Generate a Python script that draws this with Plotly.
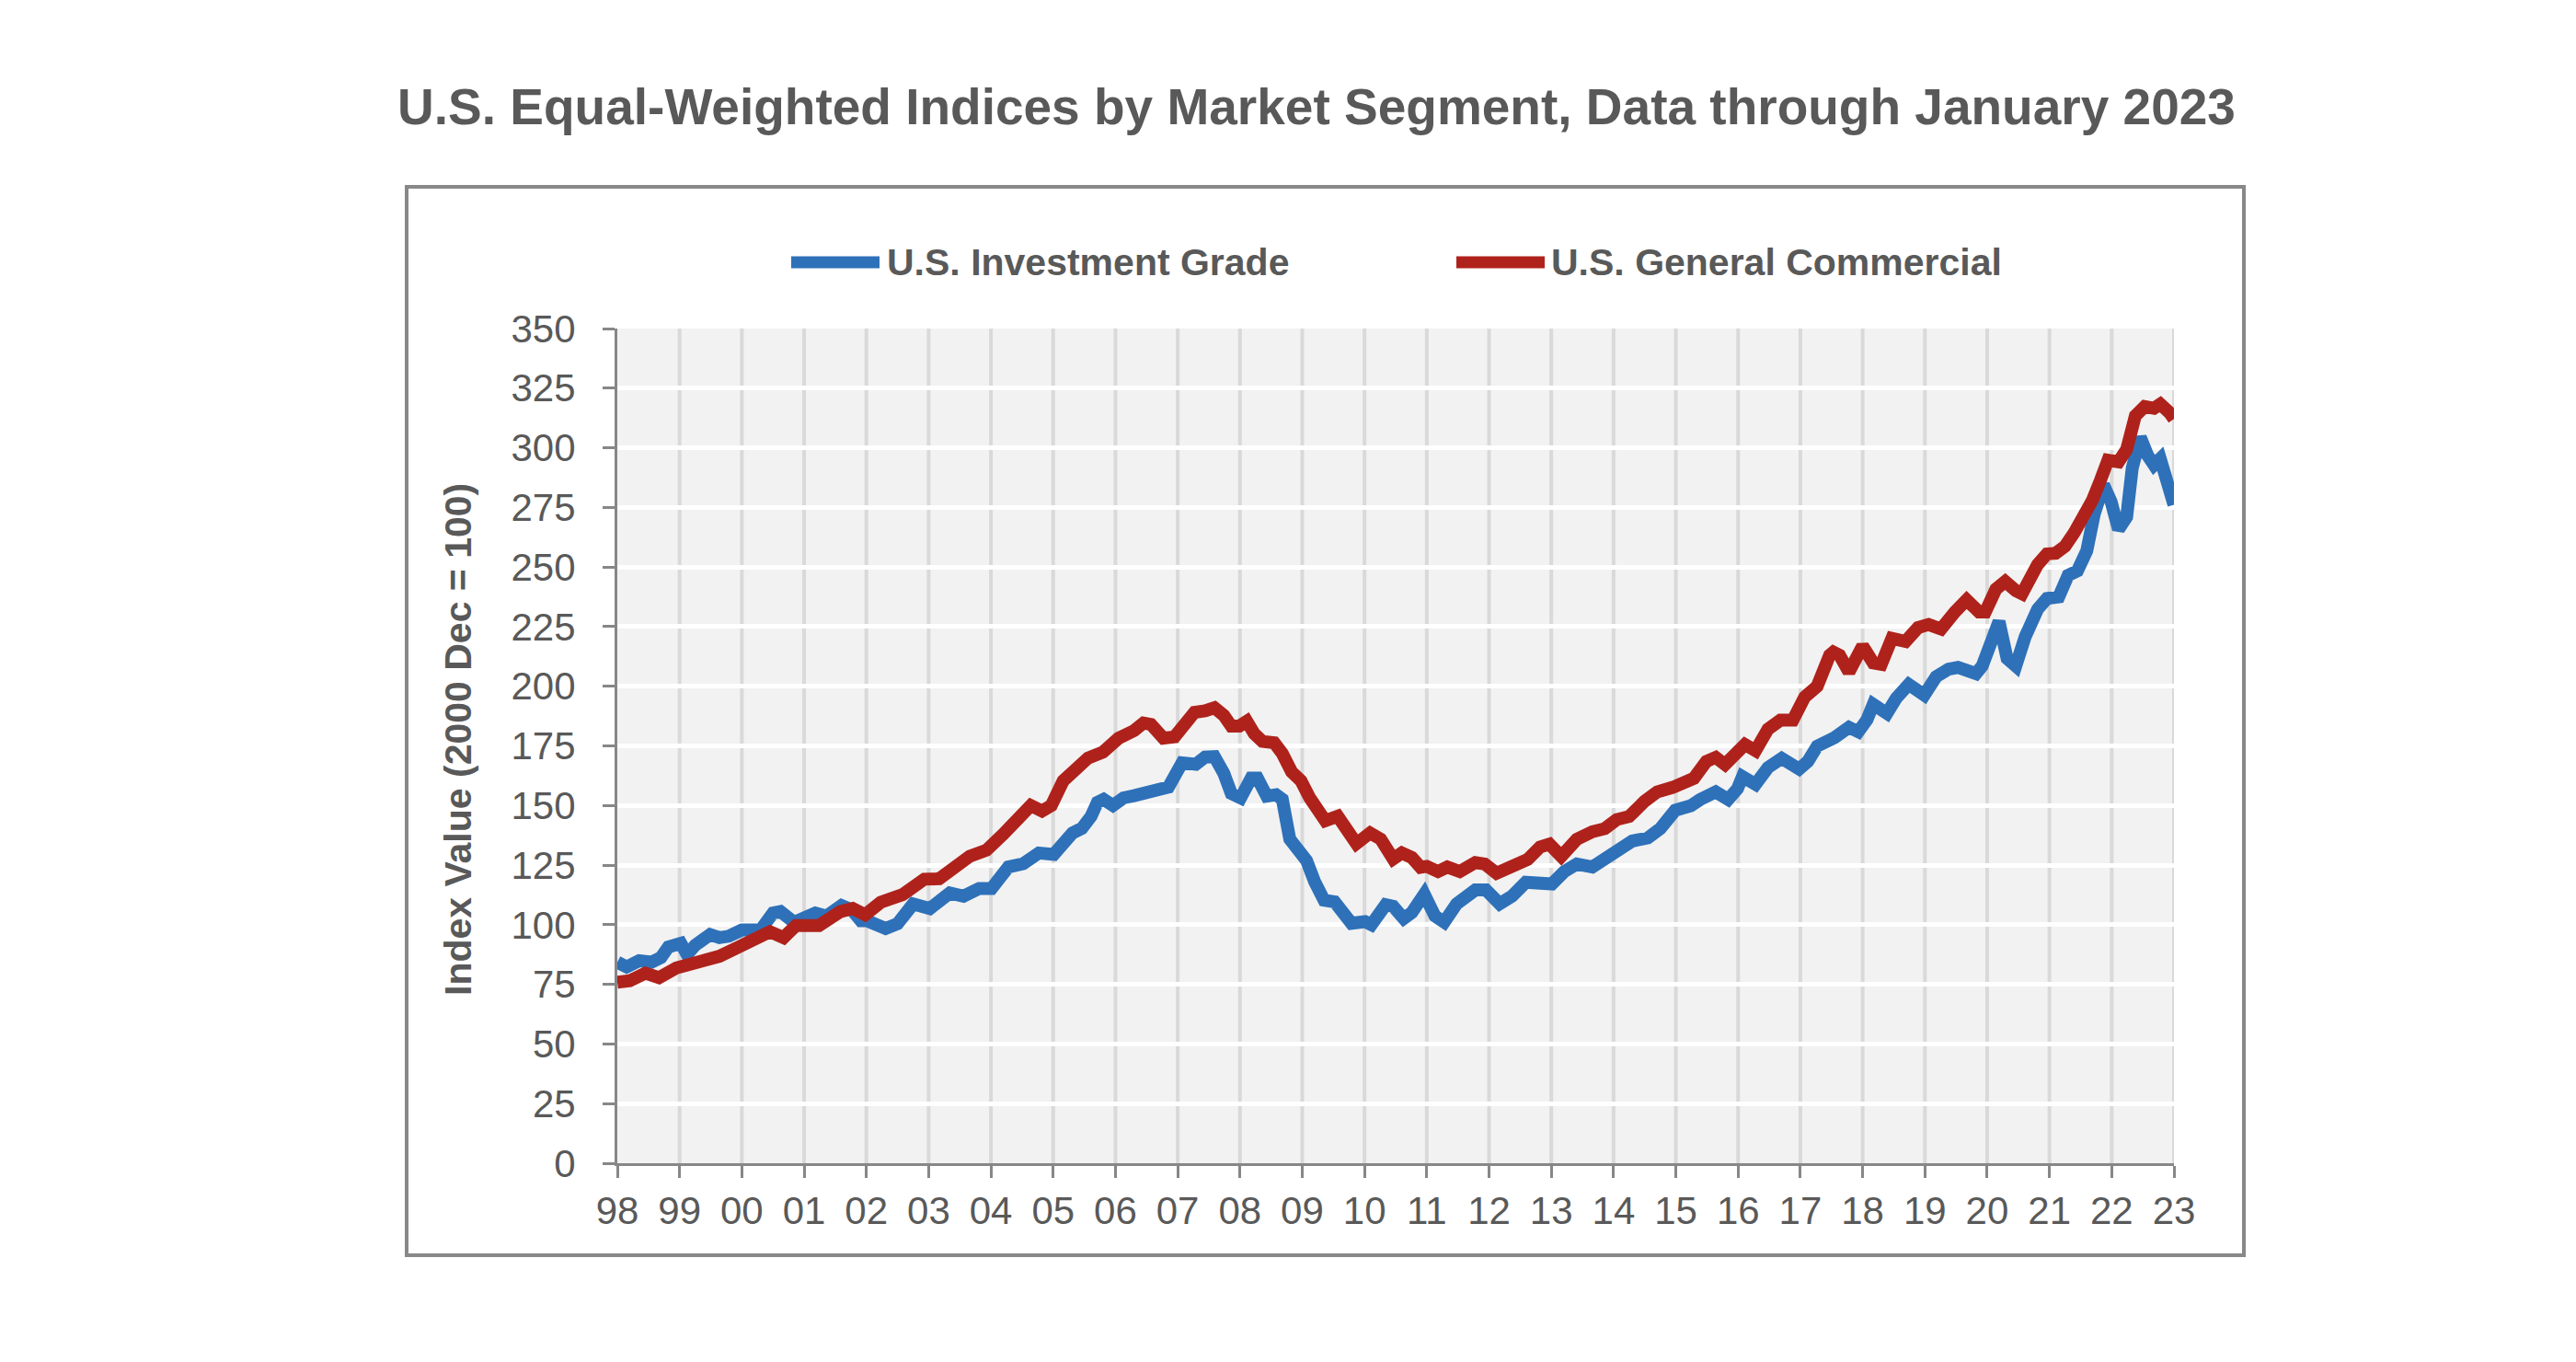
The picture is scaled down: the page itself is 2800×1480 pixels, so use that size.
import plotly.graph_objects as go

# ---------------- data ----------------
ig_years = [1998.00, 1998.15, 1998.35, 1998.55, 1998.70, 1998.82, 1999.02, 1999.12, 1999.25, 1999.49,
            1999.64, 1999.79, 2000.00, 2000.15, 2000.30, 2000.50, 2000.62, 2000.84, 2000.99, 2001.18,
            2001.36, 2001.60, 2001.77, 2001.91, 2002.01, 2002.31, 2002.50, 2002.75, 2003.02, 2003.34,
            2003.56, 2003.81, 2004.01, 2004.28, 2004.52, 2004.77, 2005.01, 2005.16, 2005.31, 2005.46,
            2005.61, 2005.71, 2005.81, 2005.96, 2006.13, 2006.30, 2006.45, 2006.65, 2006.85, 2007.07,
            2007.29, 2007.44, 2007.59, 2007.74, 2007.86, 2008.01, 2008.18, 2008.28, 2008.43, 2008.58,
            2008.68, 2008.80, 2008.92, 2009.07, 2009.20, 2009.35, 2009.52, 2009.65, 2009.79, 2010.01,
            2010.11, 2010.34, 2010.46, 2010.63, 2010.76, 2010.96, 2011.13, 2011.28, 2011.48, 2011.78,
            2011.95, 2012.17, 2012.37, 2012.59, 2012.87, 2013.01, 2013.21, 2013.41, 2013.66, 2013.91,
            2014.10, 2014.30, 2014.55, 2014.75, 2014.99, 2015.24, 2015.39, 2015.64, 2015.84, 2015.99,
            2016.07, 2016.28, 2016.48, 2016.70, 2016.98, 2017.12, 2017.27, 2017.40, 2017.55, 2017.78,
            2017.93, 2018.07, 2018.17, 2018.39, 2018.54, 2018.74, 2018.99, 2019.18, 2019.38, 2019.53,
            2019.67, 2019.82, 2019.92, 2020.04, 2020.19, 2020.32, 2020.46, 2020.61, 2020.81, 2020.96,
            2021.15, 2021.30, 2021.45, 2021.60, 2021.72, 2021.87, 2021.99, 2022.11, 2022.24, 2022.33,
            2022.46, 2022.58, 2022.68, 2022.78, 2022.88, 2022.98, 2023.00]
ig_values = [84.3, 82.3, 84.9, 84.3, 86.2, 90.7, 92.2, 87.5, 91.4, 95.9,
             94.6, 95.2, 97.8, 98.4, 97.8, 104.9, 105.5, 101.0, 102.3, 104.9,
             103.6, 108.1, 106.2, 101.7, 101.7, 98.4, 100.4, 108.7, 106.8, 113.3,
             112.0, 115.2, 115.2, 124.2, 125.6, 130.1, 129.5, 134.0, 138.5, 140.4,
             145.5, 151.3, 152.6, 150.0, 153.2, 154.1, 155.1, 155.1, 157.7, 167.9,
             167.3, 170.3, 170.5, 163.5, 155.1, 153.2, 161.5, 161.5, 153.9, 154.5,
             152.6, 135.9, 130.8, 126.9, 118.0, 110.3, 109.6, 105.8, 100.6, 101.3,
             100.0, 108.4, 107.7, 102.6, 105.1, 112.8, 103.7, 101.1, 108.8, 114.6,
             114.6, 108.8, 112.0, 117.8, 116.5, 117.1, 122.3, 125.5, 124.2, 128.1,
             131.3, 135.1, 136.4, 140.3, 148.0, 149.9, 152.5, 155.7, 152.5, 157.0,
             162.1, 158.9, 165.9, 169.8, 165.3, 168.5, 174.9, 176.4, 178.5, 182.8,
             180.9, 186.0, 192.4, 188.6, 195.0, 200.8, 196.3, 204.0, 207.2, 207.9,
             206.0, 205.3, 208.5, 218.2, 227.2, 211.7, 208.5, 220.7, 232.3, 236.8,
             237.5, 246.5, 248.4, 256.8, 272.2, 284.5, 277.4, 265.8, 271.0, 291.5,
             304.4, 296.7, 292.8, 295.4, 287.7, 278.7, 276.1]

gc_years = [1998.00, 1998.20, 1998.45, 1998.67, 1998.95, 1999.12, 1999.45, 1999.64, 1999.95, 2000.25,
            2000.45, 2000.67, 2000.87, 2001.24, 2001.58, 2001.78, 2001.98, 2002.23, 2002.58, 2002.93,
            2003.17, 2003.66, 2003.93, 2004.20, 2004.32, 2004.50, 2004.64, 2004.82, 2004.97, 2005.16,
            2005.31, 2005.56, 2005.80, 2006.05, 2006.30, 2006.45, 2006.57, 2006.77, 2006.95, 2007.10,
            2007.27, 2007.44, 2007.59, 2007.74, 2007.86, 2007.99, 2008.11, 2008.23, 2008.36, 2008.55,
            2008.68, 2008.83, 2008.98, 2009.12, 2009.27, 2009.37, 2009.57, 2009.67, 2009.87, 2010.09,
            2010.26, 2010.46, 2010.60, 2010.76, 2010.90, 2011.00, 2011.18, 2011.33, 2011.53, 2011.78,
            2011.93, 2012.12, 2012.37, 2012.62, 2012.82, 2012.97, 2013.16, 2013.41, 2013.66, 2013.86,
            2014.05, 2014.25, 2014.50, 2014.70, 2014.95, 2015.09, 2015.29, 2015.49, 2015.64, 2015.79,
            2015.94, 2016.11, 2016.28, 2016.48, 2016.68, 2016.88, 2017.07, 2017.27, 2017.47, 2017.53,
            2017.63, 2017.78, 2018.00, 2018.17, 2018.30, 2018.47, 2018.69, 2018.89, 2019.06, 2019.26,
            2019.48, 2019.67, 2019.87, 2019.97, 2020.14, 2020.29, 2020.46, 2020.56, 2020.81, 2020.96,
            2021.10, 2021.25, 2021.40, 2021.55, 2021.69, 2021.82, 2021.94, 2022.11, 2022.24, 2022.38,
            2022.53, 2022.68, 2022.78, 2022.93, 2023.00]
gc_values = [75.9, 76.5, 79.7, 77.8, 81.9, 83.0, 86.2, 86.8, 90.7, 93.9,
             97.1, 94.6, 99.7, 99.7, 105.5, 106.8, 104.2, 109.4, 112.6, 119.1,
             119.3, 128.7, 131.3, 138.0, 141.0, 147.0, 150.0, 147.7, 150.0, 160.3,
             164.1, 169.9, 172.4, 178.2, 181.4, 184.6, 184.0, 178.2, 178.8, 184.6,
             189.1, 189.7, 191.0, 187.8, 183.3, 183.3, 185.3, 180.1, 176.9, 176.3,
             171.8, 164.1, 160.3, 153.2, 147.4, 143.6, 145.5, 142.3, 134.0, 138.5,
             135.9, 127.6, 130.1, 128.2, 124.1, 124.5, 122.3, 124.2, 122.3, 126.1,
             125.5, 121.6, 124.8, 127.4, 132.6, 133.8, 128.7, 135.8, 139.0, 140.3,
             144.1, 145.4, 151.8, 155.7, 157.6, 158.9, 161.4, 168.5, 170.2, 167.2,
             170.4, 175.6, 173.0, 182.0, 185.8, 185.8, 195.5, 200.0, 213.0, 214.3,
             213.0, 206.0, 216.9, 209.8, 209.2, 220.1, 218.8, 224.6, 225.9, 224.0,
             231.1, 236.2, 231.1, 231.1, 240.7, 243.9, 240.1, 238.8, 251.0, 255.5,
             255.8, 258.7, 264.5, 270.9, 278.0, 286.4, 294.8, 294.1, 299.3, 313.4,
             317.3, 316.6, 318.3, 314.7, 312.1]

tick_years = list(range(1998, 2024))
tick_labels = ["98", "99", "00", "01", "02", "03", "04", "05", "06", "07", "08", "09", "10",
               "11", "12", "13", "14", "15", "16", "17", "18", "19", "20", "21", "22", "23"]
y_ticks = list(range(0, 351, 25))

series_names = ["U.S. Investment Grade", "U.S. General Commercial"]
series_colors = ["#2E71B9", "#AF221B"]

title_text = "U.S. Equal-Weighted Indices by Market Segment, Data through January 2023"
y_title = "Index Value (2000 Dec = 100)"

# ---------------- figure ----------------
FONT = "Liberation Sans, Arial, sans-serif"
TXT = "#595959"
AXC = "#878787"

fig = go.Figure()
fig.add_trace(go.Scatter(x=ig_years, y=ig_values, mode="lines", name=series_names[0],
                         line=dict(color=series_colors[0], width=14)))
fig.add_trace(go.Scatter(x=gc_years, y=gc_values, mode="lines", name=series_names[1],
                         line=dict(color=series_colors[1], width=14)))

L, R, T, B = 671, 2363, 357, 1264
W, H = 2800, 1480
pw, ph = R - L, B - T


def px(x):
    return (x - L) / pw


def py(y):
    return (B - y) / ph


shapes = []
# vertical gridlines (drawn above the white horizontal gridlines)
for yr in tick_years[1:]:
    shapes.append(dict(type="line", xref="x", yref="paper", x0=yr, x1=yr, y0=0, y1=1,
                       line=dict(color="#D9D9D9", width=4), layer="between"))
# outer frame
shapes.append(dict(type="rect", xref="paper", yref="paper",
                   x0=px(442), x1=px(2439), y0=py(1364), y1=py(203),
                   line=dict(color="#888888", width=4), fillcolor="rgba(0,0,0,0)", layer="above"))
# legend samples
leg_y = py(285)
shapes.append(dict(type="line", xref="paper", yref="paper", x0=px(860), x1=px(956), y0=leg_y, y1=leg_y,
                   line=dict(color=series_colors[0], width=13)))
shapes.append(dict(type="line", xref="paper", yref="paper", x0=px(1583), x1=px(1679), y0=leg_y, y1=leg_y,
                   line=dict(color=series_colors[1], width=13)))

annotations = [
    dict(text=series_names[0], xref="paper", yref="paper", x=px(962), y=leg_y, xanchor="left",
         yanchor="middle", showarrow=False, font=dict(family=FONT, size=41, color=TXT, weight="bold")),
    dict(text=series_names[1], xref="paper", yref="paper", x=px(1684), y=leg_y, xanchor="left",
         yanchor="middle", showarrow=False, font=dict(family=FONT, size=41, color=TXT, weight="bold")),
    dict(text=y_title, xref="paper", yref="paper", x=px(498), y=py(804), xanchor="center",
         yanchor="middle", textangle=-90, showarrow=False,
         font=dict(family=FONT, size=41, color=TXT, weight="bold")),
]

fig.update_layout(
    width=W, height=H,
    margin=dict(l=L, r=W - R, t=T, b=H - B, pad=0),
    paper_bgcolor="white",
    plot_bgcolor="#F2F2F2",
    showlegend=False,
    font=dict(family=FONT, color=TXT),
    title=dict(text=title_text, x=1431 / W, xanchor="center", xref="container",
               y=1 - 116 / H, yanchor="middle", yref="container",
               font=dict(family=FONT, size=55, color=TXT, weight="bold")),
    shapes=shapes,
    annotations=annotations,
)

fig.update_xaxes(range=[1998, 2023], tickvals=tick_years, ticktext=tick_labels,
                 showgrid=False, zeroline=False,
                 showline=True, linecolor=AXC, linewidth=3,
                 ticks="outside", ticklen=13, tickwidth=3, tickcolor=AXC,
                 tickfont=dict(family=FONT, size=42, color=TXT), ticklabelstandoff=0)
fig.update_yaxes(range=[0, 350], tickvals=y_ticks,
                 showgrid=True, gridcolor="white", gridwidth=5, zeroline=False,
                 showline=True, linecolor=AXC, linewidth=3,
                 ticks="outside", ticklen=13, tickwidth=3, tickcolor=AXC,
                 tickfont=dict(family=FONT, size=42, color=TXT), ticklabelstandoff=21)

fig.write_html("out.html")
